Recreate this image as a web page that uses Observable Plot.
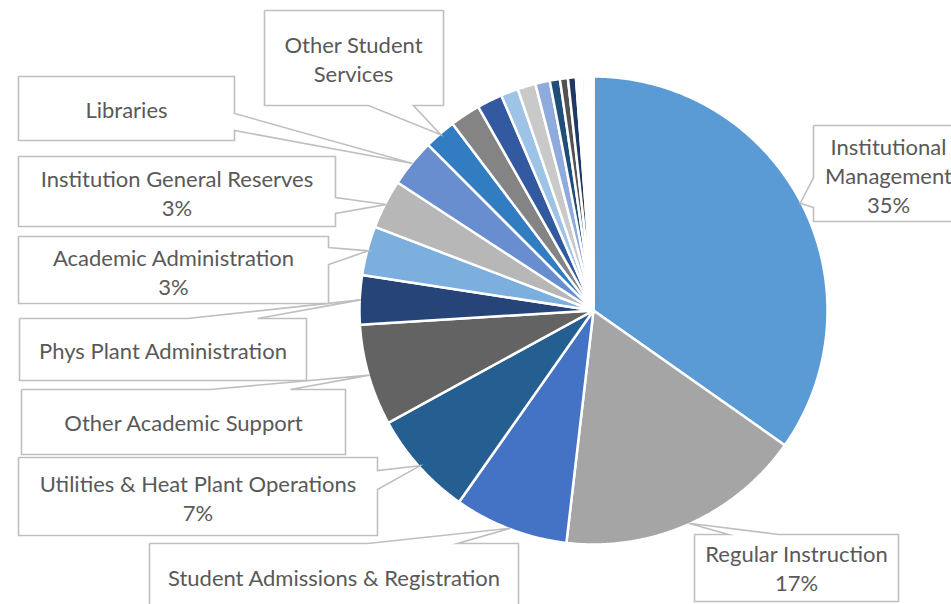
<!DOCTYPE html>
<html>
<head>
<meta charset="utf-8">
<script src="https://cdn.jsdelivr.net/npm/d3@7"></script>
<script src="https://cdn.jsdelivr.net/npm/@observablehq/plot@0.6"></script>
<style>
  html, body { margin: 0; padding: 0; background: #fff; overflow: hidden; }
  #chart svg { display: block; overflow: hidden; }
</style>
</head>
<body>
<div id="chart"></div>
<script>
// ---- data (clockwise from 12 o'clock) ----
const categories = [
  "Institutional Management", "Regular Instruction", "Student Admissions & Registration",
  "Utilities & Heat Plant Operations", "Other Academic Support", "Phys Plant Administration",
  "Academic Administration", "Institution General Reserves", "Libraries", "Other Student Services",
  "Unlabeled 11", "Unlabeled 12", "Unlabeled 13", "Unlabeled 14", "Unlabeled 15", "Unlabeled 16",
  "Unlabeled 17", "Unlabeled 18", "Unlabeled 19", "Unlabeled 20", "Unlabeled 21", "Unlabeled 22",
  "Unlabeled 23", "Unlabeled 24"
];
const shares = [
  34.8, 17.1, 7.9, 7.3, 7.0, 3.4, 3.4, 3.4, 3.3, 2.2,
  2.1, 1.75, 1.2, 1.25, 1.0, 0.7, 0.55, 0.55,
  0.2, 0.2, 0.2, 0.2, 0.2, 0.2
];
const sliceColors = [
  "#5B9BD5", "#A5A5A5", "#4472C4", "#255E91", "#636363", "#264478",
  "#7CAFDD", "#B7B7B7", "#698ED0", "#327DC2", "#848484", "#335AA1",
  "#9DC3E6", "#C9C9C9", "#8FAADC", "#1F4E79", "#525252", "#203864",
  "#E4EEF8", "#EFEFEF", "#E2E9F6", "#EEF4FA", "#F3F3F3", "#E8EEF8"
];

// ---- labels (which categories get a callout) ----
const labelNames = [
  "Institutional Management", "Regular Instruction", "Student Admissions & Registration",
  "Utilities & Heat Plant Operations", "Other Academic Support", "Phys Plant Administration",
  "Academic Administration", "Institution General Reserves", "Libraries", "Other Student Services"
];
const labelShowsPercent = [true, true, false, true, false, false, true, true, false, false];
const labelWraps = [true, false, false, false, false, false, false, false, false, true];

// ---- layout (pixels) ----
const pie = {cx: 593, cy: 310, r: 234, tipR: 233};
const boxRects = [
  [813, 125, 963, 221], [694, 534, 898, 601], [149, 543, 518, 650], [18, 457, 377, 535],
  [21, 389, 345, 454], [19, 318, 306, 380], [18, 236, 328, 303], [18, 156, 335, 226],
  [18, 76, 234, 140], [264, 10, 443, 105]
];
const pointerSides = ["left", "top", "top", "right", "top", "top", "right", "right", "right", "bottom"];
const pointerBases = [
  [177, 207], [728, 778], [367, 457], [470, 489], [210, 290],
  [187, 257], [247, 264], [197, 213], [113, 130], [368, 413]
];
const textCenters = [
  [888, 174], [796, 567], [333.5, 576], [197.5, 497], [183, 421.5],
  [162.5, 349.5], [173, 270.5], [176.5, 191.5], [126, 108.5], [353, 57.5]
];
const W = 951, H = 604;
const FONT = "Lato, 'Open Sans', sans-serif";

// ---- geometry from data ----
const total = d3.sum(shares);
const ends = Array.from(d3.cumsum(shares), v => v / total * 2 * Math.PI);
const starts = [0, ...ends.slice(0, -1)];
const px = (a, r) => pie.cx + r * Math.sin(a);
const py = (a, r) => pie.cy - r * Math.cos(a);

const slicePts = [];
categories.forEach((c, i) => {
  const a0 = starts[i], a1 = ends[i];
  const n = Math.max(2, Math.ceil((a1 - a0) / (Math.PI / 360)));
  slicePts.push({slice: c, x: pie.cx, y: pie.cy});
  for (let k = 0; k <= n; k++) {
    const a = a0 + (a1 - a0) * k / n;
    slicePts.push({slice: c, x: px(a, pie.r), y: py(a, pie.r)});
  }
  slicePts.push({slice: c, x: pie.cx, y: pie.cy});
});

const calloutPts = [];
const labelRows = [];
labelNames.forEach((name, j) => {
  const i = categories.indexOf(name);
  const mid = (starts[i] + ends[i]) / 2;
  const tip = [px(mid, pie.tipR), py(mid, pie.tipR)];
  const [x0, y0, x1, y1] = boxRects[j];
  const [b1, b2] = pointerBases[j];
  const side = pointerSides[j];
  const pts = [[x0, y0]];
  if (side === "top") pts.push([b1, y0], tip, [b2, y0]);
  pts.push([x1, y0]);
  if (side === "right") pts.push([x1, b1], tip, [x1, b2]);
  pts.push([x1, y1]);
  if (side === "bottom") pts.push([b2, y1], tip, [b1, y1]);
  pts.push([x0, y1]);
  if (side === "left") pts.push([x0, b2], tip, [x0, b1]);
  pts.push([x0, y0]);
  pts.forEach(([x, y]) => calloutPts.push({label: name, x, y}));

  let text = name;
  if (labelWraps[j]) {
    const s = name.lastIndexOf(" ");
    text = name.slice(0, s) + "\n" + name.slice(s + 1);
  }
  if (labelShowsPercent[j]) text += "\n" + Math.round(shares[i] / total * 100) + "%";
  labelRows.push({text, x: textCenters[j][0], y: textCenters[j][1]});
});

const chart = Plot.plot({
  width: W,
  height: H,
  margin: 0,
  x: {domain: [0, W], range: [0, W], axis: null},
  y: {domain: [0, H], range: [0, H], axis: null},
  color: {domain: categories, range: sliceColors},
  style: {background: "#fff"},
  marks: [
    Plot.line(slicePts, {
      x: "x", y: "y", z: "slice", fill: "slice",
      stroke: "#fff", strokeWidth: 2.5, strokeLinejoin: "round", curve: "linear"
    }),
    Plot.line(calloutPts, {
      x: "x", y: "y", z: "label", fill: "#fff",
      stroke: "#BFBFBF", strokeWidth: 1.6, strokeLinejoin: "miter", strokeLinecap: "butt",
      strokeMiterlimit: 10, curve: "linear"
    }),
    Plot.text(labelRows, {
      x: "x", y: "y", text: "text",
      fontSize: 22, fontFamily: FONT, fill: "#595959",
      lineHeight: 1.33, textAnchor: "middle", lineAnchor: "middle"
    })
  ]
});
document.getElementById("chart").append(chart);
</script>
</body>
</html>
